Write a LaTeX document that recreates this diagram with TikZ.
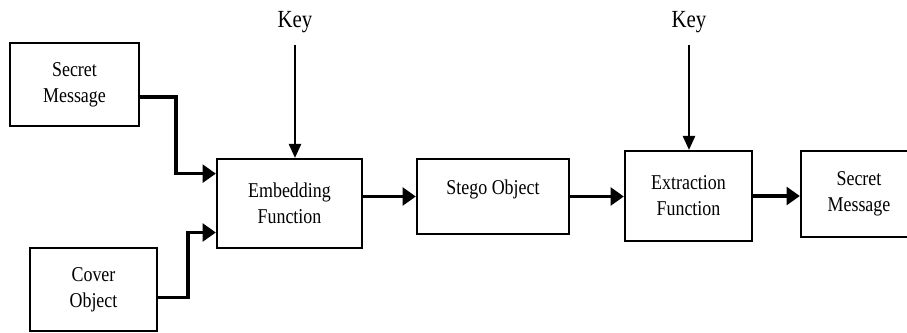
\documentclass[tikz,border=0pt]{standalone}
\usepackage{fontspec}
\setmainfont{Liberation Serif}[FakeStretch=0.85]
\usetikzlibrary{arrows.meta}
\tikzset{
  block/.style={draw,line width=1.3pt,align=center,inner sep=2pt,
    font=\fontsize{12}{14.7}\selectfont},
  keylabel/.style={font=\fontsize{14}{16}\selectfont},
  flow/.style={line width=2pt,-{Triangle[length=7.5pt,width=10pt]}},
  keyarrow/.style={line width=1.1pt,shorten <=3pt,-{Triangle[length=8pt,width=7pt]}},
}

\begin{document}
\begin{tikzpicture}[x=0.02cm,y=-0.02cm]
    \useasboundingbox (0,0) rectangle (907,332);
    %% inputs
    \node[block,minimum width=2.58cm,minimum height=1.66cm] (msgin) at (74.5,84.5) {Secret\\Message};
    \node[block,minimum width=2.54cm,minimum height=1.66cm] (cover) at (93.5,289.5) {Cover\\Object};
    %% embedding side
    \node[block,minimum width=2.9cm,minimum height=1.78cm] (embed) at (289.5,203.5) {Embedding\\Function};
    \node[keylabel] (key1) at (295,22.5) {Key};
    \node[block,minimum width=3.04cm,minimum height=1.5cm,text depth=11pt] (stego) at (493,196.5) {Stego Object};
    %% extraction side
    \node[block,minimum width=2.54cm,minimum height=1.8cm] (extract) at (688.5,196) {Extraction\\Function};
    \node[keylabel] (key2) at (689,22.5) {Key};
    \node[block,minimum width=2.32cm,minimum height=1.72cm] (msgout) at (859,194) {Secret\\Message};
    %% connectors
    \draw[flow] ([yshift=-7pt]msgin.east) -- ++(36,0) |- ([yshift=17pt]embed.west);
    \draw[flow] ([yshift=-4.5pt]cover.east) -- ++(30,0) |- ([yshift=-16.5pt]embed.west);
    \draw[keyarrow] (key1.south) -- (key1.south |- embed.north);
    \draw[flow] (embed.east |- stego.west) -- (stego.west);
    \draw[flow] (stego.east) -- (extract.west |- stego.east);
    \draw[keyarrow] (key2.south) -- (key2.south |- extract.north);
    \draw[flow] (extract.east) -- (msgout.west |- extract.east);
\end{tikzpicture}
\end{document}
